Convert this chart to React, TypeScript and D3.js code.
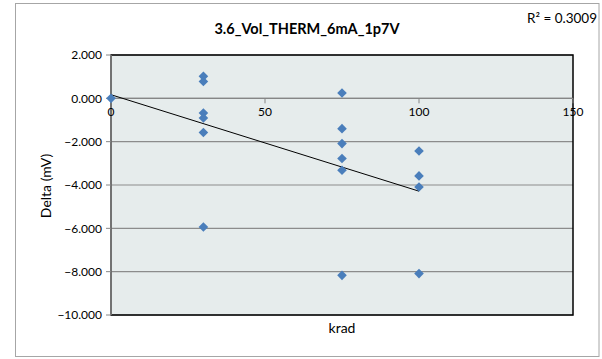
import React from "react";
import * as d3 from "d3";

const titleText = "3.6_Vol_THERM_6mA_1p7V";
const r2Text = "R² = 0.3009";
const xLabel = "krad";
const yLabel = "Delta (mV)";
const xTicks = [0, 50, 100, 150];
const yTicks = [2, 0, -2, -4, -6, -8, -10];
const krad = [0, 30, 30, 30, 30, 30, 30, 75, 75, 75, 75, 75, 75, 100, 100, 100, 100];
const delta = [0, 1.015, 0.78, -0.68, -0.91, -1.58, -5.94, 0.245, -1.4, -2.09, -2.78, -3.32, -8.17, -2.43, -3.58, -4.09, -8.09];

const W = 602;
const H = 359;
const font = "Lato, 'Liberation Sans', sans-serif";

export default function App() {
  const x = d3.scaleLinear().domain([0, 150]).range([111, 573]);
  const y = d3.scaleLinear().domain([-10, 2]).range([315, 55]);

  const mx = d3.mean(krad) as number;
  const my = d3.mean(delta) as number;
  let sxy = 0, sxx = 0;
  krad.forEach((k, i) => {
    sxy += (k - mx) * (delta[i] - my);
    sxx += (k - mx) * (k - mx);
  });
  const slope = sxy / sxx;
  const icpt = my - slope * mx;
  const xMin = d3.min(krad) as number;
  const xMax = d3.max(krad) as number;
  const trend = d3.line<number>().x((v) => x(v)).y((v) => y(icpt + slope * v))([xMin, xMax]) as string;

  const s = 4.8;
  const diamond = `M0,${-s}L${s},0L0,${s}L${-s},0Z`;

  return (
    <svg width={W} height={H} style={{ position: "absolute", left: 0, top: 0, fontFamily: font }}>
      <rect x={0} y={0} width={W} height={H} fill="#fff" />
      <rect x={15.5} y={3.5} width={583.5} height={353} fill="#fff" stroke="#a6a6a6" strokeWidth={1} />
      <rect x={x(0)} y={y(2)} width={x(150) - x(0)} height={y(-10) - y(2)} fill="#e6ecec" />
      {yTicks.map((t) => (
        <line key={"g" + t} x1={x(0)} x2={x(150)} y1={y(t)} y2={y(t)} stroke="#8c8c8c" strokeWidth={1.2} />
      ))}
      <rect x={x(0)} y={y(2)} width={x(150) - x(0)} height={y(-10) - y(2)} fill="none" stroke="#000" strokeWidth={1.5} />
      <line x1={x(0)} x2={x(0)} y1={y(2)} y2={y(-10)} stroke="#868686" strokeWidth={1.5} />
      {yTicks.map((t) => (
        <g key={"yt" + t}>
          <line x1={x(0) - 5} x2={x(0)} y1={y(t)} y2={y(t)} stroke="#868686" />
          <text x={x(0) - 9} y={y(t)} dy="0.35em" textAnchor="end" fontSize={12} fill="#000">
            {d3.format(".3f")(t)}
          </text>
        </g>
      ))}
      <line x1={x(0)} x2={x(150)} y1={y(0)} y2={y(0)} stroke="#868686" strokeWidth={1.2} />
      {xTicks.map((t) => (
        <g key={"xt" + t}>
          <line x1={x(t)} x2={x(t)} y1={y(0)} y2={y(0) + 5} stroke="#868686" />
          <text x={x(t)} y={y(0) + 18} textAnchor="middle" fontSize={12} fill="#000">
            {t}
          </text>
        </g>
      ))}
      <path d={trend} stroke="#000" strokeWidth={1} fill="none" />
      {krad.map((k, i) => (
        <path key={"p" + i} d={diamond} transform={`translate(${x(k)},${y(delta[i])})`} fill="#4a7ebb" />
      ))}
      <text x={307} y={34} textAnchor="middle" fontSize={14.5} fontWeight="bold" fill="#000">
        {titleText}
      </text>
      <text x={597} y={23} textAnchor="end" fontSize={13.5} fill="#000">
        {r2Text}
      </text>
      <text x={342} y={333} textAnchor="middle" fontSize={14} fill="#000">
        {xLabel}
      </text>
      <text transform={`translate(51,186) rotate(-90)`} textAnchor="middle" fontSize={14} fill="#000">
        {yLabel}
      </text>
    </svg>
  );
}
